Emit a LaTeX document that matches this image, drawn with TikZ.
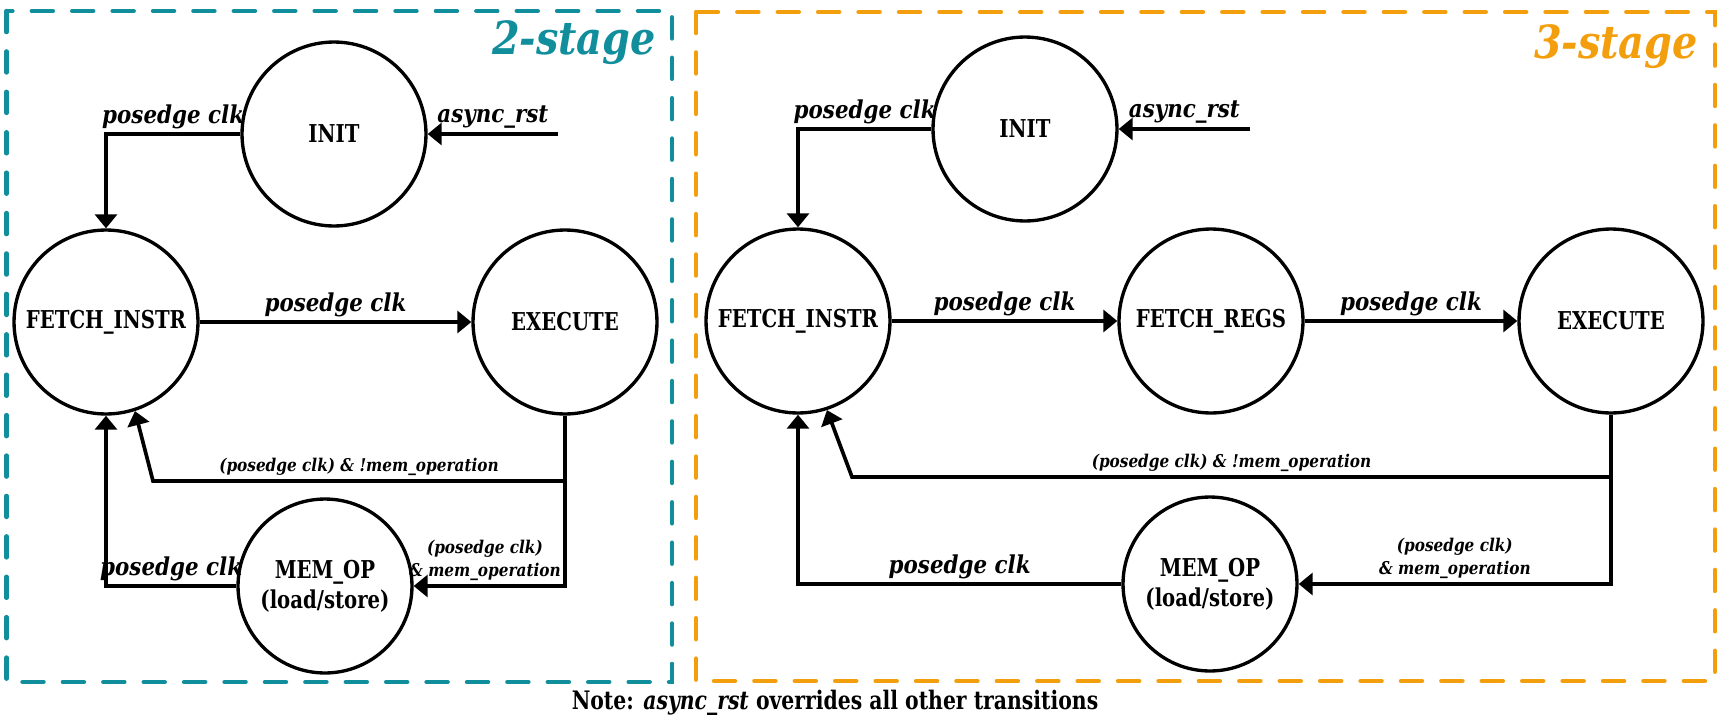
\documentclass[tikz,border=0pt]{standalone}
\usepackage{fontspec}
\setmainfont{DejaVu Serif}[FakeStretch = 0.87]
\newfontfamily\statefont{DejaVu Serif}[FakeStretch = 0.8]
\usetikzlibrary{arrows.meta}
\definecolor{stagetwo}{RGB}{16,142,155}
\definecolor{stagethree}{RGB}{243,158,12}
\tikzset{
	state/.style = {draw, circle, line width = 1.9pt, minimum size = 3.68cm, inner sep = 0pt, align = center, font = \statefont\bfseries\fontsize{14}{17}\selectfont},
	memstate/.style = {state, minimum size = 3.48cm},
	arr/.style = {line width = 2.1pt, -{Triangle[length = 8pt, width = 12.5pt]}},
	lbl/.style = {inner sep = 2pt, font = \fontsize{14}{16}\selectfont\bfseries\itshape},
	smalllbl/.style = {inner sep = 2pt, align = center, font = \fontsize{10}{13}\selectfont\bfseries\itshape},
	frame/.style = {line width = 2.5pt, line cap = round, dash pattern = on 12pt off 11pt},
	title/.style = {anchor = base east, font = \fontsize{26}{30}\selectfont\bfseries\itshape}
}

\begin{document}
\begin{tikzpicture}[x = 0.02cm, y = -0.02cm]
	\useasboundingbox (0, 0) rectangle (1721, 717);
	\draw[frame, stagetwo] (6.5, 11) rectangle (672, 682);
	\draw[frame, stagethree] (696, 12) rectangle (1715, 681);
	\node[title, text = stagetwo] (title2) at (662, 54) {2-stage};
	\node[title, text = stagethree] (title3) at (1704, 58) {3-stage};

	\node[state] (init2) at (334, 134) {INIT};
	\node[state] (fetch2) at (106, 322) {FETCH\_INSTR};
	\node[state] (exec2) at (565, 322) {EXECUTE};
	\node[memstate] (mem2) at (325, 586) {MEM\_OP\\(load/store)};

	\coordinate (rst2) at (558, 134);
	\coordinate (lvl2) at (0, 481);
	\coordinate (br2) at (exec2.south |- lvl2);
	\coordinate (bend2) at (153, 481);

	\draw[arr] (rst2) -- node[lbl, above] {async\_rst} (init2.east);
	\draw[arr] (init2.west) -| node[lbl, pos = 0.25, above] {posedge clk} (fetch2.north);
	\draw[arr] (fetch2) -- node[lbl, above] {posedge clk} (exec2);
	\draw[arr] (exec2.south) |- node[smalllbl, pos = 0.75, above, xshift = -2.5pt] {(posedge clk)\\\& mem\_operation} (mem2.east);
	\draw[arr] (br2) -- node[smalllbl, above] {(posedge clk) \& !mem\_operation} (bend2) -- (fetch2.-72);
	\draw[arr] (mem2.west) -| node[lbl, pos = 0.25, above] {posedge clk} (fetch2.south);

	\node[state] (init3) at (1025, 129) {INIT};
	\node[state] (fetch3) at (798, 321) {FETCH\_INSTR};
	\node[state] (regs3) at (1211, 321) {FETCH\_REGS};
	\node[state] (exec3) at (1611, 321) {EXECUTE};
	\node[memstate] (mem3) at (1210, 584) {MEM\_OP\\(load/store)};

	\coordinate (rst3) at (1250, 129);
	\coordinate (lvl3) at (0, 477);
	\coordinate (br3) at (exec3.south |- lvl3);
	\coordinate (bend3) at (852, 477);

	\draw[arr] (rst3) -- node[lbl, above] {async\_rst} (init3.east);
	\draw[arr] (init3.west) -| node[lbl, pos = 0.25, above] {posedge clk} (fetch3.north);
	\draw[arr] (fetch3) -- node[lbl, above] {posedge clk} (regs3);
	\draw[arr] (regs3) -- node[lbl, above] {posedge clk} (exec3);
	\draw[arr] (exec3.south) |- node[smalllbl, pos = 0.75, above] {(posedge clk)\\\& mem\_operation} (mem3.east);
	\draw[arr] (br3) -- node[smalllbl, above] {(posedge clk) \& !mem\_operation} (bend3) -- (fetch3.-72);
	\draw[arr] (mem3.west) -| node[lbl, pos = 0.25, above] {posedge clk} (fetch3.south);

	\node[font = \statefont\bfseries\fontsize{14.5}{17}\selectfont] (note) at (835, 703) {Note: \textit{async\_rst} overrides all other transitions};
\end{tikzpicture}
\end{document}
